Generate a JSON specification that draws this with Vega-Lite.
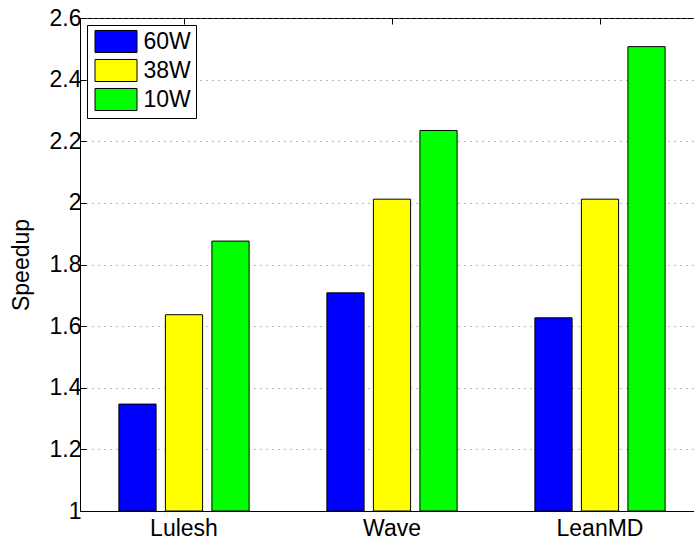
{
  "$schema": "https://vega.github.io/schema/vega-lite/v6.json",
  "autosize": "none",
  "width": 624,
  "height": 493,
  "padding": {"left": 80, "top": 18, "right": 0, "bottom": 33},
  "background": "white",
  "config": {
    "font": "Liberation Sans",
    "view": {"stroke": "black", "strokeWidth": 1}
  },
  "data": {
    "values": [
      {"app": "Lulesh", "power": "60W", "speedup": 1.347},
      {"app": "Lulesh", "power": "38W", "speedup": 1.637},
      {"app": "Lulesh", "power": "10W", "speedup": 1.876},
      {"app": "Wave", "power": "60W", "speedup": 1.708},
      {"app": "Wave", "power": "38W", "speedup": 2.012},
      {"app": "Wave", "power": "10W", "speedup": 2.235},
      {"app": "LeanMD", "power": "60W", "speedup": 1.627},
      {"app": "LeanMD", "power": "38W", "speedup": 2.012},
      {"app": "LeanMD", "power": "10W", "speedup": 2.507}
    ]
  },
  "resolve": {"axis": {"x": "independent"}},
  "layer": [
    {
      "mark": {"type": "bar", "stroke": "black", "strokeWidth": 1, "opacity": 1},
      "encoding": {
        "x": {
          "field": "app",
          "type": "nominal",
          "sort": ["Lulesh", "Wave", "LeanMD"],
          "scale": {"paddingInner": 0, "paddingOuter": 0},
          "axis": {
            "title": null,
            "labelAngle": 0,
            "labelFontSize": 23,
            "labelColor": "black",
            "labelPadding": 12,
            "domainColor": "black",
            "tickColor": "black",
            "tickSize": -6,
            "grid": false
          }
        },
        "xOffset": {
          "field": "power",
          "sort": ["60W", "38W", "10W"],
          "scale": {"paddingInner": 0.2, "paddingOuter": 0.836}
        },
        "y": {
          "field": "speedup",
          "type": "quantitative",
          "scale": {"domain": [1, 2.6], "zero": false, "nice": false},
          "axis": {
            "title": "Speedup",
            "titleFontSize": 23,
            "titleFontWeight": "normal",
            "titleColor": "black",
            "titlePadding": 16,
            "values": [1, 1.2, 1.4, 1.6, 1.8, 2, 2.2, 2.4, 2.6],
            "format": "~g",
            "labelFontSize": 23,
            "labelColor": "black",
            "labelPadding": 5,
            "domainColor": "black",
            "tickColor": "black",
            "tickSize": -6,
            "grid": true,
            "gridColor": "#777777",
            "gridDash": [1, 5],
            "gridWidth": 1
          }
        },
        "y2": {"datum": 1},
        "color": {
          "field": "power",
          "type": "nominal",
          "sort": ["60W", "38W", "10W"],
          "scale": {"range": ["#0000ff", "#ffff00", "#00ff00"]},
          "legend": {
            "title": null,
            "orient": "none",
            "legendX": 7,
            "legendY": 7,
            "labelFontSize": 23,
            "labelColor": "black",
            "symbolType": "M-2,-1.05H2V1.05H-2Z",
            "symbolSize": 441,
            "symbolStrokeColor": "black",
            "symbolStrokeWidth": 1,
            "symbolOpacity": 1,
            "symbolOffset": 12.5,
            "fillColor": "white",
            "strokeColor": "black",
            "padding": 5,
            "rowPadding": 2,
            "labelOffset": 16
          }
        }
      }
    },
    {
      "mark": {"type": "point", "opacity": 0},
      "encoding": {
        "x": {
          "field": "app",
          "type": "nominal",
          "sort": ["Lulesh", "Wave", "LeanMD"],
          "axis": {
            "orient": "top",
            "title": null,
            "labels": false,
            "domain": false,
            "tickColor": "black",
            "tickSize": -6,
            "grid": false
          }
        },
        "y": {"field": "speedup", "type": "quantitative"}
      }
    }
  ]
}
